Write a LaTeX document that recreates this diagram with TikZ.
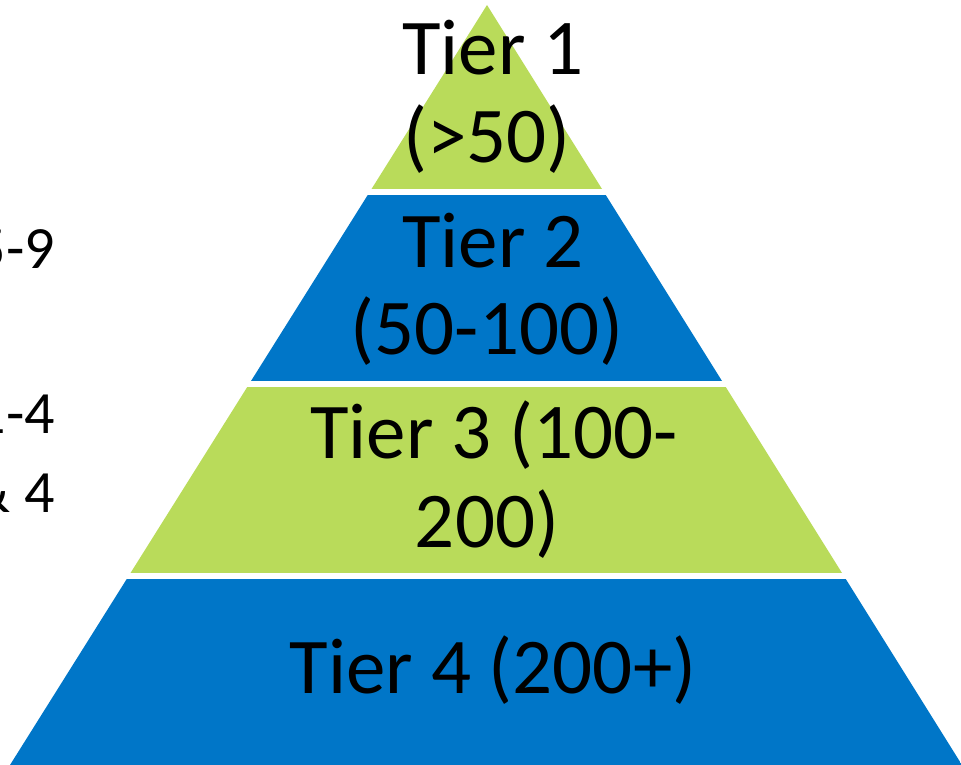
\documentclass[tikz,border=0pt]{standalone}
\usepackage{fontspec}
\setmainfont{Carlito}
\definecolor{tiergreen}{RGB}{185,219,90}
\definecolor{tierblue}{RGB}{0,118,200}
\begin{document}
\begin{tikzpicture}[x=1pt,y=-1pt,
  tierlabel/.style={font=\fontsize{79}{88}\selectfont, inner sep=0pt, anchor=base, text=black},
  sidelabel/.style={font=\fontsize{60}{72}\selectfont, inner sep=0pt, anchor=base east, text=black}]
  \useasboundingbox (0,0) rectangle (961,765);
  % pyramid outline
  \coordinate (apex) at (487,5);
  \coordinate (bl) at (10,765);
  \coordinate (br) at (962,765);
  \begin{scope}
    \clip (apex) -- (bl) -- (br) -- cycle;
    \fill[tiergreen] (0,0)   rectangle (961,189);
    \fill[tierblue]  (0,195) rectangle (961,381);
    \fill[tiergreen] (0,387) rectangle (961,573);
    \fill[tierblue]  (0,579) rectangle (961,765);
  \end{scope}
  % tier labels
  \node[tierlabel] (t1a) at (493,75)  {Tier 1};
  \node[tierlabel] (t1b) at (487,162) {(>50)};
  \node[tierlabel] (t2a) at (493,267) {Tier 2};
  \node[tierlabel] (t2b) at (487,354) {(50-100)};
  \node[tierlabel] (t3a) at (494,458) {Tier 3 (100-};
  \node[tierlabel] (t3b) at (487,547) {200)};
  \node[tierlabel] (t4)  at (493,693) {Tier 4 (200+)};
  % side labels
  \node[sidelabel] (s1) at (55,268) {5-9};
  \node[sidelabel] (s2) at (55,433) {1-4};
  \node[sidelabel] (s3) at (55,512) {\& 4};
\end{tikzpicture}
\end{document}
